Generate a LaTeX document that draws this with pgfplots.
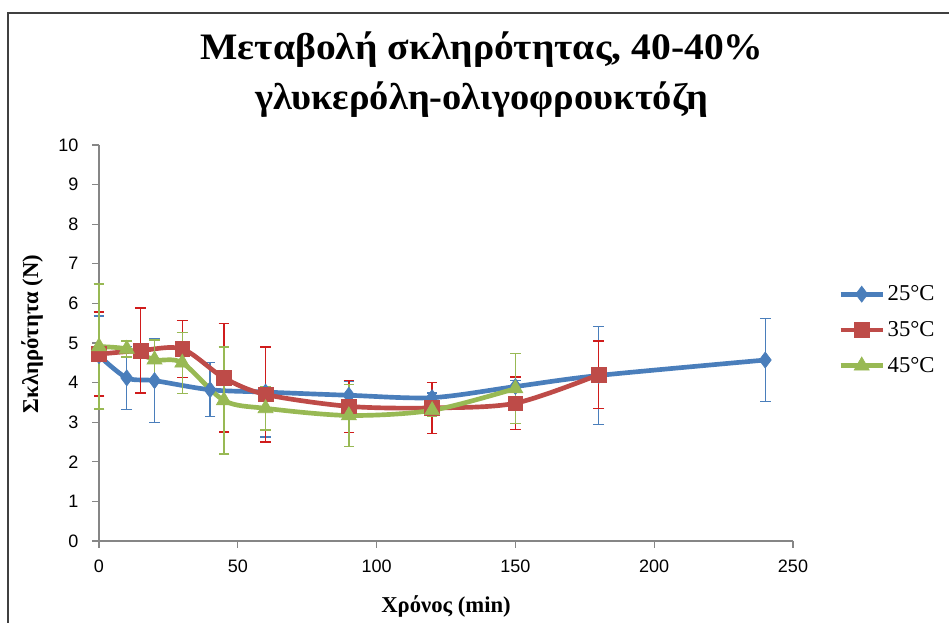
\documentclass[border=0pt]{standalone}
\usepackage{pgfplots}
\pgfplotsset{compat=1.18}
\usepackage{pgfplotstable}
\usepackage{fontspec}
\setmainfont{Liberation Serif}
\newfontfamily\tickfont{Liberation Sans}
\definecolor{cblue}{HTML}{4A7EBB}
\definecolor{cred}{HTML}{BE4B48}
\definecolor{cgreen}{HTML}{98B954}
\definecolor{ered}{HTML}{D01C1C}
\definecolor{axgray}{HTML}{868686}

\pgfplotstableread{
x y e
0 4.68 1.00
10 4.12 0.80
20 4.05 1.05
40 3.82 0.68
60 3.76 1.13
90 3.68 0.35
120 3.62 0.12
150 3.90 0.15
180 4.18 1.24
240 4.57 1.05
}\tblue
\pgfplotstableread{
x y e
0 4.72 1.06
15 4.81 1.07
30 4.85 0.72
45 4.12 1.37
60 3.70 1.20
90 3.40 0.66
120 3.36 0.64
150 3.48 0.66
180 4.20 0.85
}\tred
\pgfplotstableread{
x y e
0 4.91 1.58
10 4.85 0.20
20 4.58 0.50
30 4.50 0.77
45 3.55 1.35
60 3.35 0.55
90 3.17 0.79
120 3.30 0.15
150 3.85 0.88
}\tgreen

\begin{document}
\begin{tikzpicture}
\useasboundingbox (0pt,0pt) rectangle (711.75pt,466.5pt);
\fill[white] (0pt,0pt) rectangle (711.75pt,466.5pt);
\draw[line width=1.5pt, black!75] (6pt,-15pt) rectangle (730pt,457pt);
\node[font=\bfseries\fontsize{28}{32}\selectfont, anchor=center, xscale=1.06] at (361.5pt,429pt) {Μεταβολή σκληρότητας, 40-40\%};
\node[font=\bfseries\fontsize{28}{32}\selectfont, anchor=center, xscale=1.03] at (361.5pt,391.5pt) {γλυκερόλη-ολιγοφρουκτόζη};
\begin{axis}[
  at={(74.25pt,60.75pt)}, anchor=south west,
  scale only axis, width=520.5pt, height=297pt,
  xmin=0, xmax=250, ymin=0, ymax=10,
  xtick={0,50,...,250}, ytick={0,1,...,10},
  axis x line*=bottom, axis y line*=left,
  axis line style={axgray, line width=1pt, -},
  tick style={axgray, line width=1pt},
  tick align=outside, major tick length=5pt,
  tick label style={font=\tickfont\fontsize{13.5}{15}\selectfont},
  xticklabel style={yshift=-6pt},
  yticklabel style={xshift=-7pt},
  /pgf/number format/assume math mode=true,
  xlabel={\textbf{Χρόνος (min)}},
  ylabel={\textbf{Σκληρότητα (N)}},
  label style={font=\fontsize{17}{19}\selectfont},
  xlabel shift=10pt,
  ylabel style={at={(axis description cs:-0.0965,0.523)}, anchor=center, rotate=0},
  clip=false,
  legend style={draw=none, fill=none, at={(1.065,0.533)}, anchor=west,
    font=\fontsize{17}{19}\selectfont, row sep=10pt, inner sep=0pt,
    legend cell align=left},
  legend image code/.code={\draw[mark repeat=2, mark phase=2, #1] plot coordinates {(0pt,0pt) (15.75pt,0pt) (31.5pt,0pt)};},
]
\addplot[cblue, line width=3.5pt, smooth, mark=diamond*, mark size=6pt,
  mark options={solid, line width=0.5pt},
  error bars/.cd, y dir=both, y explicit,
  error bar style={line width=1pt, cblue},
  error mark options={rotate=90, mark size=4pt, line width=1pt, cblue}]
  table[x=x, y=y, y error=e] {\tblue};
\addlegendentry{25°C}
\addplot[cred, line width=3.5pt, smooth, mark=square*, mark size=5.5pt,
  mark options={solid, line width=0.5pt},
  error bars/.cd, y dir=both, y explicit,
  error bar style={line width=1pt, ered},
  error mark options={rotate=90, mark size=4pt, line width=1pt, ered}]
  table[x=x, y=y, y error=e] {\tred};
\addlegendentry{35°C}
\addplot[cgreen, line width=3.5pt, smooth, mark=triangle*, mark size=6.5pt,
  mark options={solid, line width=0.5pt},
  error bars/.cd, y dir=both, y explicit,
  error bar style={line width=1pt, cgreen},
  error mark options={rotate=90, mark size=4pt, line width=1pt, cgreen}]
  table[x=x, y=y, y error=e] {\tgreen};
\addlegendentry{45°C}
\end{axis}
\end{tikzpicture}
\end{document}
